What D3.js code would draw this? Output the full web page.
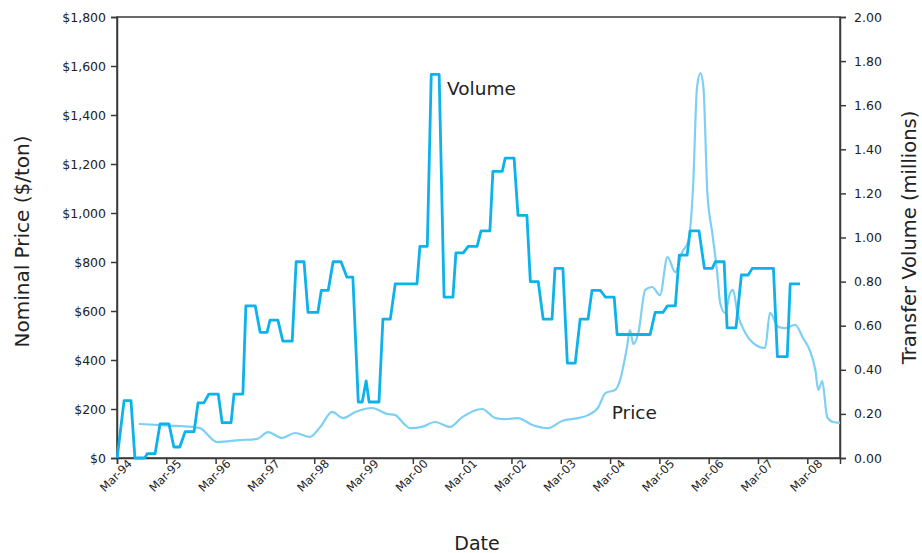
<!DOCTYPE html>
<html><head><meta charset="utf-8">
<script src="https://cdn.jsdelivr.net/npm/d3@7"></script>
<style>
html,body{margin:0;padding:0;background:#fff;}
svg text{font-family:"DejaVu Sans",Verdana,sans-serif;}
</style></head>
<body><svg id="chart" width="922" height="553"></svg>
<script>
// ---- data (dates as decimal years) ----
const volumeDates = [1994.17,1994.31,1994.45,1994.53,1994.73,1994.78,1994.94,1995.04,1995.22,1995.32,1995.44,1995.55,1995.73,1995.81,1995.93,1996.03,1996.22,1996.30,1996.48,1996.54,1996.72,1996.78,1996.97,1997.07,1997.21,1997.27,1997.43,1997.53,1997.72,1997.80,1997.96,1998.04,1998.24,1998.31,1998.45,1998.55,1998.71,1998.83,1998.95,1999.06,1999.14,1999.22,1999.28,1999.48,1999.56,1999.71,1999.81,2000.25,2000.31,2000.46,2000.54,2000.70,2000.80,2000.98,2001.04,2001.19,2001.29,2001.47,2001.55,2001.73,2001.79,2001.98,2002.04,2002.22,2002.30,2002.48,2002.55,2002.71,2002.81,2002.99,2003.05,2003.21,2003.30,2003.46,2003.56,2003.72,2003.80,2003.97,2004.07,2004.25,2004.31,2004.98,2005.08,2005.24,2005.33,2005.49,2005.57,2005.73,2005.79,2005.97,2006.08,2006.24,2006.30,2006.48,2006.54,2006.72,2006.83,2006.97,2007.05,2007.48,2007.56,2007.76,2007.82,2008.02];
const volumeValues = [0,0.26,0.26,0,0,0.02,0.02,0.155,0.155,0.05,0.05,0.12,0.12,0.25,0.25,0.29,0.29,0.16,0.16,0.29,0.29,0.69,0.69,0.57,0.57,0.625,0.625,0.53,0.53,0.89,0.89,0.66,0.66,0.76,0.76,0.89,0.89,0.82,0.82,0.254,0.254,0.35,0.254,0.254,0.63,0.63,0.79,0.79,0.96,0.96,1.74,1.74,0.73,0.73,0.93,0.93,0.96,0.96,1.03,1.03,1.30,1.30,1.36,1.36,1.10,1.10,0.80,0.80,0.63,0.63,0.86,0.86,0.43,0.43,0.63,0.63,0.76,0.76,0.73,0.73,0.56,0.56,0.66,0.66,0.69,0.69,0.92,0.92,1.03,1.03,0.86,0.86,0.89,0.89,0.59,0.59,0.83,0.83,0.86,0.86,0.46,0.46,0.79,0.79];

const priceDates = [1994.61,1995.14,1995.69,1995.85,1996.20,1996.66,1997.01,1997.23,1997.51,1997.78,1998.08,1998.29,1998.53,1998.75,1999.00,1999.34,1999.64,1999.81,2000.01,2000.11,2000.35,2000.62,2000.92,2001.17,2001.57,2001.84,2002.04,2002.30,2002.59,2002.91,2003.19,2003.52,2003.72,2003.93,2004.07,2004.27,2004.37,2004.51,2004.57,2004.64,2004.74,2004.88,2005.02,2005.18,2005.33,2005.49,2005.63,2005.75,2005.85,2005.93,2006.00,2006.06,2006.14,2006.24,2006.34,2006.40,2006.50,2006.60,2006.66,2006.75,2006.91,2007.07,2007.31,2007.41,2007.58,2007.72,2007.92,2008.08,2008.23,2008.33,2008.39,2008.47,2008.57,2008.69,2008.83];
const priceValues = [139,133,127,122,65,73,78,106,82,102,86,127,188,163,188,204,180,175,135,122,127,147,127,167,200,163,159,163,135,122,151,163,175,208,265,278,318,453,522,465,510,686,698,665,820,759,841,882,1106,1514,1571,1514,1082,918,755,633,592,673,686,592,510,469,449,592,535,530,543,490,433,359,278,314,167,147,143];

const xTickDates = [1994,1995,1996,1997,1998,1999,2000,2001,2002,2003,2004,2005,2006,2007,2008].map(y => y + 2/12);
const xTickLabels = ["Mar-94","Mar-95","Mar-96","Mar-97","Mar-98","Mar-99","Mar-00","Mar-01","Mar-02","Mar-03","Mar-04","Mar-05","Mar-06","Mar-07","Mar-08"];
const priceTicks = [0,200,400,600,800,1000,1200,1400,1600,1800];
const volumeTicks = [0,0.2,0.4,0.6,0.8,1.0,1.2,1.4,1.6,1.8,2.0];

// ---- layout ----
const svg = d3.select("#chart");
const m = {left:117, right:82, top:17, bottom:95};
const W = 922, H = 553;
const x = d3.scaleLinear().domain([1994 + 2/12, 2008.83]).range([m.left, W - m.right]);
const yP = d3.scaleLinear().domain([0,1800]).range([H - m.bottom, m.top]);
const yV = d3.scaleLinear().domain([0,2]).range([H - m.bottom, m.top]);

const axisColor = "#3a3a3a";

// frame
svg.append("rect").attr("x", m.left).attr("y", m.top)
  .attr("width", W - m.left - m.right).attr("height", H - m.top - m.bottom)
  .attr("fill","none").attr("stroke",axisColor).attr("stroke-width",1.5);

// axes
const fmtP = d => "$" + d3.format(",")(d);
const gL = svg.append("g").attr("transform",`translate(${m.left},0)`)
  .call(d3.axisLeft(yP).tickValues(priceTicks).tickFormat(fmtP).tickSize(6).tickPadding(5));
const gR = svg.append("g").attr("transform",`translate(${W - m.right},0)`)
  .call(d3.axisRight(yV).tickValues(volumeTicks).tickFormat(d3.format(".2f")).tickSize(6).tickPadding(8));
const gB = svg.append("g").attr("transform",`translate(0,${H - m.bottom})`)
  .call(d3.axisBottom(x).tickValues(xTickDates).tickFormat((d,i) => xTickLabels[i]).tickSize(6).tickPadding(3));

[gL,gR,gB].forEach(g => {
  g.select(".domain").attr("stroke",axisColor).attr("stroke-width",1.5);
  g.selectAll(".tick line").attr("stroke",axisColor).attr("stroke-width",1.5);
  g.selectAll(".tick text").attr("fill","#222").style("font-size","12.5px");
});
gB.selectAll(".tick text")
  .attr("text-anchor","end")
  .attr("dx","0.55em").attr("dy","0.55em")
  .attr("transform","rotate(-45)")
  .style("font-size","11.5px");

// lines
const priceData = priceDates.map((d,i) => [d, priceValues[i]]);
const volData = volumeDates.map((d,i) => [d, volumeValues[i]]);

svg.append("path").datum(priceData)
  .attr("fill","none").attr("stroke","#7dd0f4").attr("stroke-width",2.2)
  .attr("d", d3.line().x(d => x(d[0])).y(d => yP(d[1])).curve(d3.curveMonotoneX));

svg.append("path").datum(volData)
  .attr("fill","none").attr("stroke","#0db2ea").attr("stroke-width",2.8)
  .attr("stroke-linejoin","round")
  .attr("d", d3.line().x(d => x(d[0])).y(d => yV(d[1])));

// series labels
svg.append("text").attr("x", x(2000.86)).attr("y", yV(1.645))
  .attr("fill","#222").style("font-size","18.5px").text("Volume");
svg.append("text").attr("x", x(2004.2)).attr("y", yP(160))
  .attr("fill","#222").style("font-size","18.5px").text("Price");

// axis titles
svg.append("text").attr("transform",`translate(29,${(m.top + H - m.bottom)/2 + 4}) rotate(-90)`)
  .attr("text-anchor","middle").attr("fill","#222").style("font-size","20px").text("Nominal Price ($/ton)");
svg.append("text").attr("transform",`translate(916,${(m.top + H - m.bottom)/2}) rotate(-90)`)
  .attr("text-anchor","middle").attr("fill","#222").style("font-size","19.5px").text("Transfer Volume (millions)");
svg.append("text").attr("x", 477).attr("y", 550)
  .attr("text-anchor","middle").attr("fill","#222").style("font-size","19px").text("Date");
</script></body></html>
